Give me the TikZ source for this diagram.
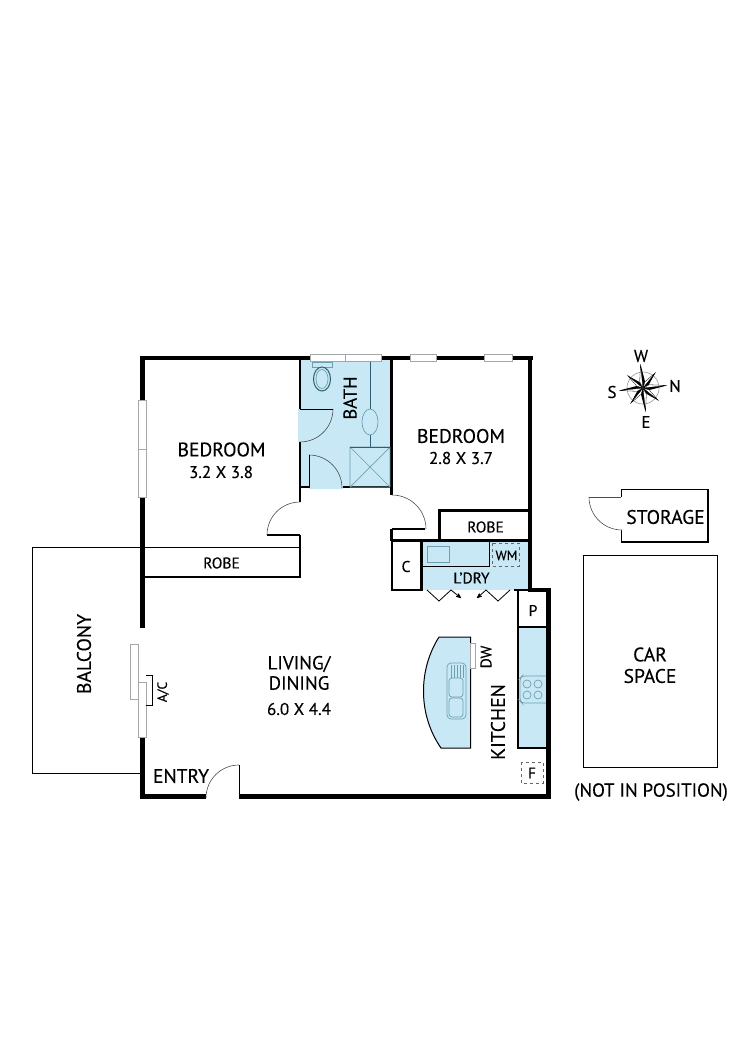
\documentclass[tikz,border=0pt]{standalone}
\usepackage{fontspec}
\setmainfont[FakeBold=0.25]{PT Sans}
\usetikzlibrary{arrows}
\definecolor{wetblue}{HTML}{C8E8F5}
\definecolor{fitline}{HTML}{2F5F6E}
\definecolor{sinkline}{HTML}{6E9FAE}
\newcommand{\fsize}[1]{\fontsize{#1}{#1}\selectfont}
\begin{document}
\begin{tikzpicture}[x=1pt,y=-1pt,>=stealth',
  wall/.style={line width=4.6pt},
  part/.style={line width=2.4pt},
  hairwall/.style={line width=0.9pt},
  fixture/.style={line width=1pt,draw=fitline},
  sink/.style={line width=0.7pt,draw=sinkline},
  door/.style={line width=0.6pt,draw=black!70},
  sash/.style={line width=0.7pt,draw=black!35,fill=white},
  dashbox/.style={line width=0.8pt,dashed,draw=black!60},
  room/.style={font=\fsize{19.6}},
  size/.style={font=\fsize{17}},
  small/.style={font=\fsize{15.5}},
  tiny/.style={font=\fsize{13.5}}]
\useasboundingbox (0,0) rectangle (750,1061);
% wet areas
\fill[wetblue] (300,360) -- (391,360) -- (391,487) -- (343,487) -- (343,489) -- (309,489) -- (309,487) -- (300,487) -- cycle;
\fill[wetblue] (298,409) -- (333,409) arc[start angle=0,end angle=90,radius=33] -- (298,442) -- cycle;
\fill[wetblue] (422,541) rectangle (528,590);
\fill[wetblue] (518,628) rectangle (546,748);
\fill[wetblue] (470.5,637) -- (439,637) .. controls (418,670) and (418,715) .. (441,748) -- (470.5,748) -- cycle;
% balcony
\draw[hairwall] (142,547) -- (32,547) -- (32,773) -- (142,773);
% walls
\draw[wall] (142.5,628) -- (142.5,357.8) -- (533,357.8);
\draw[wall] (530,355.5) -- (530,590) -- (548.5,590) -- (548.5,796.7) -- (239,796.7);
\draw[wall] (206,796.7) -- (142.5,796.7) -- (142.5,737);
\draw[part] (300,357) -- (300,409) (300,442) -- (300,502);
\draw[part] (300,535) -- (300,577) -- (144,577);
\draw[part] (267,535) -- (300,535);
\draw[hairwall] (144,547) -- (300,547);
\draw[part] (300,487) -- (309,487) (343,487) -- (391.5,487);
\draw[part] (391.5,357) -- (391.5,495) (391.5,529) -- (391.5,541);
\draw[part] (391.5,529) -- (425,529);
\draw[part] (392,540.5) -- (529,540.5);
\draw[part] (439.5,541) -- (439.5,510.5) -- (529,510.5);
\draw[part] (392,540) -- (392,590) -- (423,590) (421.5,540) -- (421.5,590);
\draw[part] (514,590) -- (530,590);
\draw[line width=1.4pt] (518,590) -- (518,748) -- (547,748);
\draw[part] (518,627) -- (547,627);
% doors
\draw[door] (333,409) arc[start angle=0,end angle=90,radius=33];
\draw[line width=1pt] (300,409) -- (333,409);
\draw[door] (309,455) arc[start angle=-90,end angle=0,radius=33];
\draw[line width=1pt] (309,455) -- (309,488);
\draw[door] (300,502) arc[start angle=-90,end angle=-180,radius=33];
\draw[door] (392,495) arc[start angle=-90,end angle=0,radius=34];
\draw[door] (239,765) arc[start angle=-90,end angle=-180,radius=33];
\draw[line width=1pt] (239,765) -- (239,797);
\draw[->,line width=0.8pt] (427,590) -- (439,601) -- (451,590) -- (461,598);
\draw[->,line width=0.8pt] (510,590) -- (498,601) -- (486,590) -- (477,598);
% windows
\foreach \xa/\xb in {310/345,345/381,410/436,484/512}
  \draw[sash] (\xa,354) rectangle (\xb,361);
\foreach \ya/\yb in {400/449,449/497}
  \draw[sash] (138,\ya) rectangle (146,\yb);
\draw[sash] (130,644) rectangle (138,699);
\draw[sash] (138,682) rectangle (146,737);
\draw[line width=0.8pt] (146,675) -- (152,675) -- (152,705) -- (146,705);
% bath fittings
\draw[sink,fill=wetblue] (312,362) rectangle (332,367);
\draw[fixture,fill=wetblue] (322,379) ellipse[x radius=8.5,y radius=12];
\draw[sink] (322,379) ellipse[x radius=6,y radius=9.5];
\draw[fixture] (370,362) -- (370,409) (370,435) -- (370,447);
\draw[sink] (370,422) ellipse[x radius=8,y radius=13];
\draw[sink] (350,447) rectangle (390,487) (350,447) -- (390,487) (350,487) -- (390,447);
\draw[fixture] (350,447) -- (390,447) (350,487) -- (390,487);
% laundry
\draw[line width=1pt] (422,566.5) -- (489,566.5) -- (489,541);
\draw[sink] (427,546) rectangle (449,562);
\draw[dashbox] (492,543) rectangle (519,566);
% kitchen
\draw[line width=1pt] (470.5,637) -- (439,637) .. controls (418,670) and (418,715) .. (441,748) -- (470.5,748) -- cycle;
\draw[sash] (470.5,643) rectangle (475,668);
\draw[sink,rounded corners=4pt] (447,663) rectangle (466,719);
\draw[sink,rounded corners=3pt] (449,678) rectangle (463,697);
\draw[sink,rounded corners=3pt] (449,698) rectangle (463,717);
\foreach \x in {451,454,457,460,463}
  \draw[sink] (\x,665) -- (\x,678);
\draw[sink,rounded corners=3pt] (546,676) -- (522,676) -- (520,678) -- (520,701) -- (522,703) -- (546,703);
\foreach \x in {527,538} \foreach \y in {684,695}
  \draw[sink] (\x,\y) circle[radius=4];
\draw[dashbox] (521,762) rectangle (543,783);
% storage and car space
\draw[line width=1.8pt] (621.5,497) -- (621.5,489.5) -- (708,489.5) -- (708,542) -- (621.5,542) -- (621.5,530);
\draw[door] (589,497) -- (621,497);
\draw[door] (589,497) arc[start angle=180,end angle=90,radius=33];
\draw[line width=0.9pt] (583,555) rectangle (717,767);
% compass
\begin{scope}[shift={(643,388)}]
\draw[line width=0.6pt,draw=black!40] (0,0) circle[radius=16];
\foreach \a in {39,129,219,309} {
  \draw[line width=0.3pt,fill=white] (0,0) -- (\a:20) -- (\a-22:6.5) -- cycle;
  \fill[black] (0,0) -- (\a:20) -- (\a+22:6.5) -- cycle;
}
\foreach \a in {-6,84,174,264} {
  \draw[line width=0.3pt,fill=white] (0,0) -- (\a:24) -- (\a-22:7) -- cycle;
  \fill[black] (0,0) -- (\a:24) -- (\a+22:7) -- cycle;
}
\end{scope}
% labels
\node[room] (bedrooma) at (221.5,449.5) {BEDROOM};
\node[size] (sizea) at (221,472) {3.2 X 3.8};
\node[room] (bedroomb) at (461,436) {BEDROOM};
\node[size] (sizeb) at (461,458) {2.8 X 3.7};
\node[room,rotate=90] (bath) at (350,398) {\fsize{18.5}BATH};
\node[small] (robea) at (221.5,563) {ROBE};
\node[small] (robeb) at (485.5,527) {ROBE};
\node[room] (c) at (406,566.5) {\fsize{15.5}C};
\node[tiny] (wm) at (506.5,555.5) {WM};
\node[small] (ldry) at (471.5,578) {L'DRY};
\node[small] (p) at (533,610.5) {P};
\node[small,rotate=90] (dw) at (486,657) {DW};
\node[room,rotate=90] (kitchen) at (498,722) {KITCHEN};
\node[small] (f) at (532,773) {F};
\node[room] (living) at (299,664) {\fsize{19}LIVING/};
\node[room] (dining) at (299,683) {\fsize{19}DINING};
\node[size] (sizec) at (299,709) {6.0 X 4.4};
\node[room] (entry) at (181,776) {ENTRY};
\node[room,rotate=90] (balcony) at (84,654) {BALCONY};
\node[tiny,rotate=90] (ac) at (163,692) {A/C};
\node[room] (storage) at (665.5,517) {STORAGE};
\node[room] (car) at (650,654.5) {CAR};
\node[room] (space) at (650,676) {SPACE};
\node[room] (notpos) at (651,792) {\fsize{18.8}(NOT IN POSITION)};
\node[small] (w) at (641,356) {\fsize{17}W};
\node[small] (s) at (612,392) {\fsize{17}S};
\node[small] (n) at (675,386) {\fsize{17}N};
\node[small] (e) at (646,422) {\fsize{17}E};
\end{tikzpicture}
\end{document}
